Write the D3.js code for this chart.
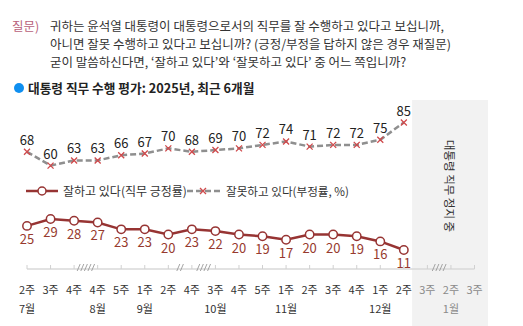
<!DOCTYPE html>
<html>
<head>
<meta charset="utf-8">
<script src="https://cdn.jsdelivr.net/npm/d3@7"></script>
<style>
  html, body { margin: 0; padding: 0; background: #fff; }
  svg { display: block; font-family: "Noto Sans CJK KR", "Noto Sans", sans-serif; }
</style>
</head>
<body>
<svg id="chart" width="523" height="326"></svg>
<script>
// Weekly survey periods (week label + month label)
const weeks = ["2주","3주","4주","4주","5주","1주","2주","4주","3주","4주","5주","1주","2주","3주","4주","1주","2주","3주","2주","3주"];
const months = [
  { idx: 0, label: "7월" }, { idx: 3, label: "8월" }, { idx: 5, label: "9월" },
  { idx: 8, label: "10월" }, { idx: 11, label: "11월" }, { idx: 15, label: "12월" },
  { idx: 18, label: "1월" }
];
// Approval / disapproval (%)
const approve = [25,29,28,27,23,23,20,23,22,20,19,17,20,20,19,16,11];
const disapprove = [68,60,63,63,66,67,70,68,69,70,72,74,71,72,72,75,85];
// Gaps in the weekly series: [between index, slash count]
const breaks = [[2,5],[6,2],[7,4],[17,4]];
// Period with no survey (suspension of duties)
const suspendedFrom = 17;

const question = [
  "귀하는 윤석열 대통령이 대통령으로서의 직무를 잘 수행하고 있다고 보십니까,",
  "아니면 잘못 수행하고 있다고 보십니까? (긍정/부정을 답하지 않은 경우 재질문)",
  "굳이 말씀하신다면, ‘잘하고 있다’와 ‘잘못하고 있다’ 중 어느 쪽입니까?"
];

const svg = d3.select("#chart");
const x = d3.scalePoint().domain(d3.range(weeks.length)).range([27, 474.5]);
const y = d3.scaleLinear().domain([0, 85]).range([269, 122.5]);
const step = x.step();

// Question block
svg.append("text").attr("x", 12).attr("y", 31).attr("font-size", 12.5)
  .attr("fill", "#b8607a").text("질문)");
svg.selectAll("text.q").data(question).join("text").attr("class", "q")
  .attr("x", 50).attr("y", (d, i) => 31 + i * 18)
  .attr("font-size", 12.5).attr("fill", "#333").text(d => d);

// Title
svg.append("circle").attr("cx", 19).attr("cy", 88).attr("r", 5).attr("fill", "#0f8ff0");
svg.append("text").attr("x", 28).attr("y", 93).attr("font-size", 12.7)
  .attr("font-weight", "bold").attr("fill", "#222").text("대통령 직무 수행 평가: 2025년, 최근 6개월");

// Suspension band
const bandX0 = x(suspendedFrom - 1) + step * 0.35;
svg.append("rect").attr("x", bandX0).attr("y", 100)
  .attr("width", 488 - bandX0).attr("height", 226).attr("fill", "#f2f2f2");
svg.append("text")
  .attr("transform", `translate(${(bandX0 + 488) / 2},186) rotate(90)`)
  .attr("text-anchor", "middle").attr("dominant-baseline", "central")
  .attr("font-size", 11.5).attr("fill", "#333").text("대통령 직무 정지 중");

// Axis baseline and ticks
const axisY = y(0);
svg.append("line").attr("x1", x(0)).attr("x2", x(weeks.length - 1))
  .attr("y1", axisY).attr("y2", axisY).attr("stroke", "#d9d9d9").attr("stroke-width", 1.5);
svg.selectAll("line.tick").data(d3.range(weeks.length)).join("line").attr("class", "tick")
  .attr("x1", d => x(d)).attr("x2", d => x(d))
  .attr("y1", axisY - 4).attr("y2", axisY).attr("stroke", "#d0d0d0");

// Gap marks on the axis
breaks.forEach(([i, n]) => {
  const cx = (x(i) + x(i + 1)) / 2;
  const w = 3.6;
  d3.range(n).forEach(k => {
    const sx = cx + (k - (n - 1) / 2) * w;
    svg.append("line").attr("x1", sx - 1.5).attr("x2", sx + 1.5)
      .attr("y1", axisY + 2).attr("y2", axisY - 5)
      .attr("stroke", "#9a9a9a").attr("stroke-width", 0.9);
  });
});

// X labels
svg.selectAll("text.wk").data(weeks).join("text").attr("class", "wk")
  .attr("x", (d, i) => x(i)).attr("y", 294).attr("text-anchor", "middle")
  .attr("font-size", 11).attr("fill", (d, i) => i >= suspendedFrom ? "#8a8a8a" : "#333").text(d => d);
svg.selectAll("text.mo").data(months).join("text").attr("class", "mo")
  .attr("x", d => x(d.idx)).attr("y", 313).attr("text-anchor", "middle")
  .attr("font-size", 11).attr("fill", d => d.idx >= suspendedFrom ? "#8a8a8a" : "#333").text(d => d.label);

const line = d3.line().x((d, i) => x(i)).y(d => y(d)).curve(d3.curveLinear);

// Disapproval series
const greyLine = "#8f8f8f", xRed = "#d0494b";
svg.append("path").datum(disapprove).attr("d", line).attr("fill", "none")
  .attr("stroke", greyLine).attr("stroke-width", 2.5).attr("stroke-dasharray", "6,3");
const cross = (g, cx, cy, s) => g.append("path")
  .attr("d", `M${cx - s},${cy - s}L${cx + s},${cy + s}M${cx - s},${cy + s}L${cx + s},${cy - s}`)
  .attr("stroke", xRed).attr("stroke-width", 1.3);
disapprove.forEach((v, i) => cross(svg, x(i), y(v), 3));
svg.selectAll("text.neg").data(disapprove).join("text").attr("class", "neg")
  .attr("x", (d, i) => x(i)).attr("y", d => y(d) - 7).attr("text-anchor", "middle")
  .attr("font-size", 13).attr("fill", "#222").text(d => d);

// Approval series
const red = "#973433";
svg.append("path").datum(approve).attr("d", line).attr("fill", "none")
  .attr("stroke", red).attr("stroke-width", 2.5);
svg.selectAll("circle.pos").data(approve).join("circle").attr("class", "pos")
  .attr("cx", (d, i) => x(i)).attr("cy", d => y(d)).attr("r", 4.2)
  .attr("fill", "#fff").attr("stroke", red).attr("stroke-width", 1.5);
svg.selectAll("text.pos").data(approve).join("text").attr("class", "pos")
  .attr("x", (d, i) => x(i)).attr("y", d => y(d) + 18).attr("text-anchor", "middle")
  .attr("font-size", 13).attr("fill", "#973a2e").text(d => d);

// Legend
const ly = 191;
svg.append("line").attr("x1", 26).attr("x2", 58).attr("y1", ly).attr("y2", ly)
  .attr("stroke", red).attr("stroke-width", 2.5);
svg.append("circle").attr("cx", 42).attr("cy", ly).attr("r", 4)
  .attr("fill", "#fff").attr("stroke", red).attr("stroke-width", 1.5);
svg.append("text").attr("x", 63).attr("y", ly + 4.5).attr("font-size", 12)
  .attr("fill", "#333").text("잘하고 있다(직무 긍정률)");
svg.append("line").attr("x1", 187).attr("x2", 220).attr("y1", ly).attr("y2", ly)
  .attr("stroke", greyLine).attr("stroke-width", 2.5).attr("stroke-dasharray", "6,3");
cross(svg, 203, ly, 3);
svg.append("text").attr("x", 226).attr("y", ly + 4.5).attr("font-size", 11.6)
  .attr("fill", "#333").text("잘못하고 있다(부정률, %)");
</script>
</body>
</html>
